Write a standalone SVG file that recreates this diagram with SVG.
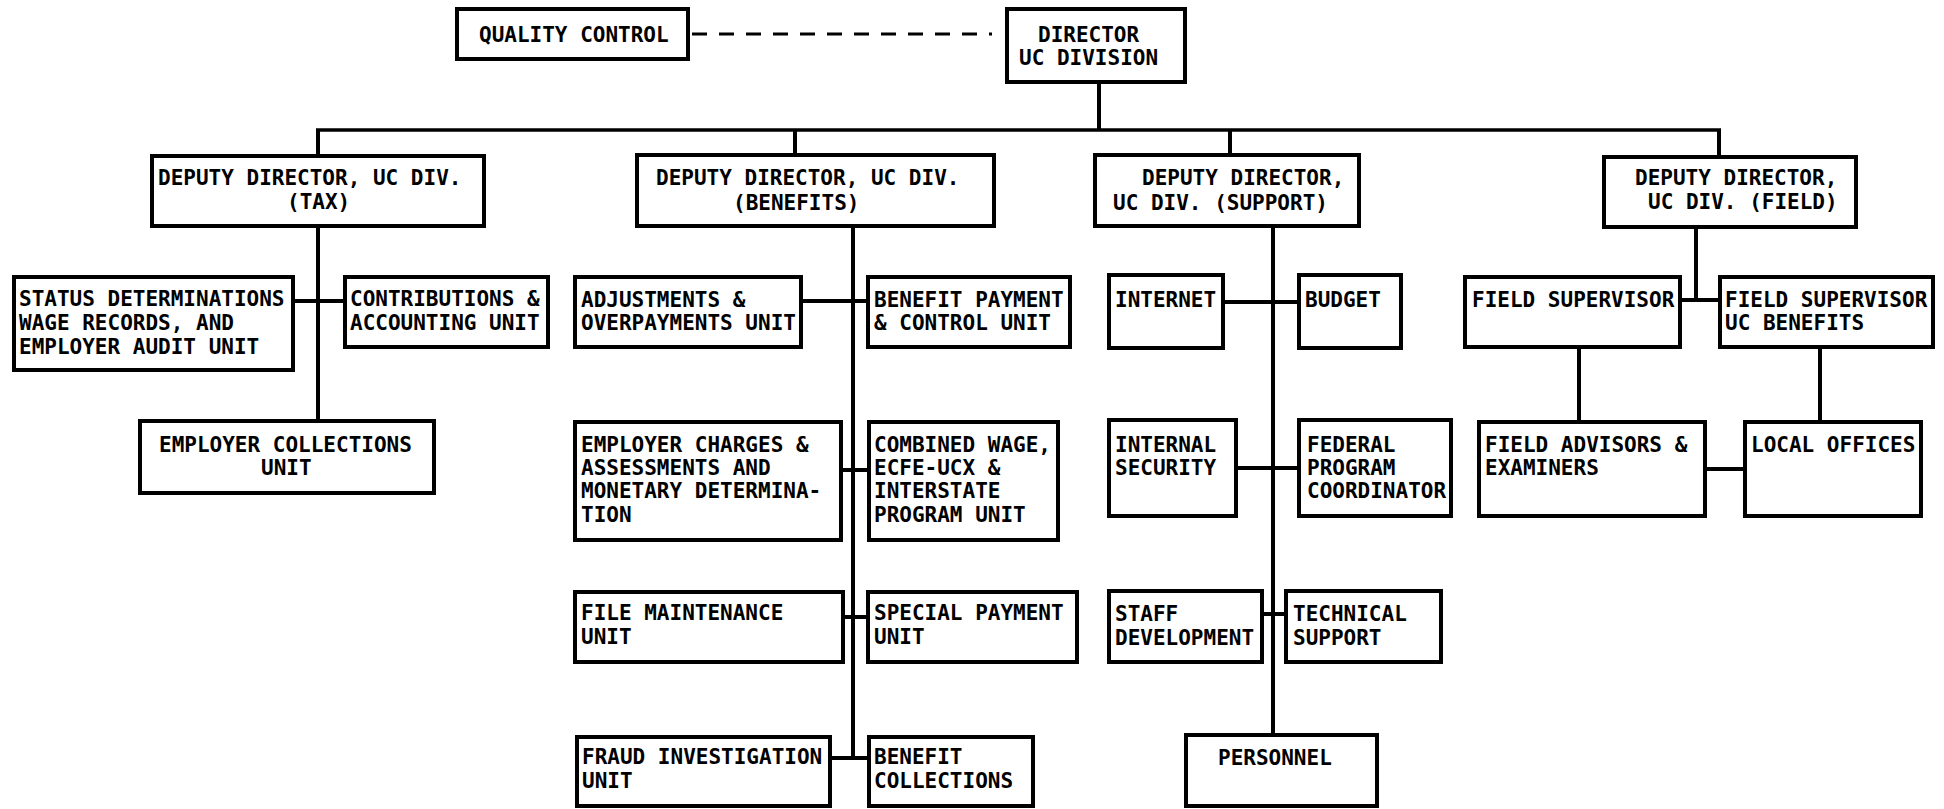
<svg xmlns="http://www.w3.org/2000/svg" width="1944" height="809" viewBox="0 0 1944 809">
<style>
rect.box{fill:#fff;stroke:#000;stroke-width:4}
line{stroke:#000;stroke-width:4}
line.dash{stroke-width:3;stroke-dasharray:15 12}
line.bus{stroke-width:3.5}
text{font-family:"DejaVu Sans Mono","Liberation Mono",monospace;font-weight:bold;font-size:21px;fill:#000}
</style>
<rect width="1944" height="809" fill="#fff"/>
<g id="connectors">
<line class="dash" x1="692" y1="34" x2="992" y2="34"/>
<line x1="1099" y1="83" x2="1099" y2="130"/>
<line class="bus" x1="316" y1="130" x2="1721" y2="130"/>
<line x1="318" y1="130" x2="318" y2="154"/>
<line x1="795" y1="130" x2="795" y2="153"/>
<line x1="1230" y1="130" x2="1230" y2="153"/>
<line x1="1719" y1="130" x2="1719" y2="155"/>
<line x1="318" y1="227" x2="318" y2="419"/>
<line x1="295" y1="301" x2="343" y2="301"/>
<line x1="853" y1="227" x2="853" y2="758"/>
<line x1="803" y1="301" x2="866" y2="301"/>
<line x1="843" y1="470" x2="867" y2="470"/>
<line x1="845" y1="617" x2="866" y2="617"/>
<line x1="832" y1="758" x2="867" y2="758"/>
<line x1="1273" y1="227" x2="1273" y2="733"/>
<line x1="1225" y1="302" x2="1297" y2="302"/>
<line x1="1238" y1="468" x2="1297" y2="468"/>
<line x1="1264" y1="614" x2="1284" y2="614"/>
<line x1="1696" y1="228" x2="1696" y2="300"/>
<line x1="1682" y1="300" x2="1718" y2="300"/>
<line x1="1579" y1="349" x2="1579" y2="420"/>
<line x1="1820" y1="349" x2="1820" y2="420"/>
<line x1="1707" y1="469" x2="1743" y2="469"/>
</g>
<g id="quality-control"><rect class="box" x="457" y="9" width="231" height="50"/><text x="479" y="42">QUALITY CONTROL</text></g>
<g id="director"><rect class="box" x="1007" y="9" width="178" height="73"/><text x="1038" y="42">DIRECTOR</text><text x="1019" y="65">UC DIVISION</text></g>
<g id="deputy-tax"><rect class="box" x="152" y="156" width="332" height="70"/><text x="158" y="185">DEPUTY DIRECTOR, UC DIV.</text><text x="287" y="209">(TAX)</text></g>
<g id="deputy-benefits"><rect class="box" x="637" y="155" width="357" height="71"/><text x="656" y="185">DEPUTY DIRECTOR, UC DIV.</text><text x="733" y="210">(BENEFITS)</text></g>
<g id="deputy-support"><rect class="box" x="1095" y="155" width="264" height="71"/><text x="1142" y="185">DEPUTY DIRECTOR,</text><text x="1113" y="210">UC DIV. (SUPPORT)</text></g>
<g id="deputy-field"><rect class="box" x="1604" y="157" width="252" height="70"/><text x="1635" y="185">DEPUTY DIRECTOR,</text><text x="1648" y="209">UC DIV. (FIELD)</text></g>
<g id="status-determinations"><rect class="box" x="14" y="277" width="279" height="93"/><text x="19" y="306">STATUS DETERMINATIONS</text><text x="19" y="330">WAGE RECORDS, AND</text><text x="19" y="354">EMPLOYER AUDIT UNIT</text></g>
<g id="contributions"><rect class="box" x="345" y="277" width="203" height="70"/><text x="350" y="306">CONTRIBUTIONS &amp;</text><text x="350" y="330">ACCOUNTING UNIT</text></g>
<g id="employer-collections"><rect class="box" x="140" y="421" width="294" height="72"/><text x="159" y="452">EMPLOYER COLLECTIONS</text><text x="261" y="475">UNIT</text></g>
<g id="adjustments"><rect class="box" x="575" y="277" width="226" height="70"/><text x="581" y="307">ADJUSTMENTS &amp;</text><text x="581" y="330">OVERPAYMENTS UNIT</text></g>
<g id="benefit-payment"><rect class="box" x="868" y="277" width="202" height="70"/><text x="874" y="307">BENEFIT PAYMENT</text><text x="874" y="330">&amp; CONTROL UNIT</text></g>
<g id="employer-charges"><rect class="box" x="575" y="422" width="266" height="118"/><text x="581" y="452">EMPLOYER CHARGES &amp;</text><text x="581" y="475">ASSESSMENTS AND</text><text x="581" y="498">MONETARY DETERMINA-</text><text x="581" y="522">TION</text></g>
<g id="combined-wage"><rect class="box" x="869" y="422" width="189" height="118"/><text x="874" y="452">COMBINED WAGE,</text><text x="874" y="475">ECFE-UCX &amp;</text><text x="874" y="498">INTERSTATE</text><text x="874" y="522">PROGRAM UNIT</text></g>
<g id="file-maintenance"><rect class="box" x="575" y="592" width="268" height="70"/><text x="581" y="620">FILE MAINTENANCE</text><text x="581" y="644">UNIT</text></g>
<g id="special-payment"><rect class="box" x="868" y="592" width="209" height="70"/><text x="874" y="620">SPECIAL PAYMENT</text><text x="874" y="644">UNIT</text></g>
<g id="fraud-investigation"><rect class="box" x="577" y="737" width="253" height="69"/><text x="582" y="764">FRAUD INVESTIGATION</text><text x="582" y="788">UNIT</text></g>
<g id="benefit-collections"><rect class="box" x="869" y="737" width="164" height="69"/><text x="874" y="764">BENEFIT</text><text x="874" y="788">COLLECTIONS</text></g>
<g id="internet"><rect class="box" x="1109" y="275" width="114" height="73"/><text x="1115" y="307">INTERNET</text></g>
<g id="budget"><rect class="box" x="1299" y="275" width="102" height="73"/><text x="1305" y="307">BUDGET</text></g>
<g id="internal-security"><rect class="box" x="1109" y="420" width="127" height="96"/><text x="1115" y="452">INTERNAL</text><text x="1115" y="475">SECURITY</text></g>
<g id="federal-program"><rect class="box" x="1299" y="420" width="152" height="96"/><text x="1307" y="452">FEDERAL</text><text x="1307" y="475">PROGRAM</text><text x="1307" y="498">COORDINATOR</text></g>
<g id="staff-development"><rect class="box" x="1109" y="591" width="153" height="71"/><text x="1115" y="621">STAFF</text><text x="1115" y="645">DEVELOPMENT</text></g>
<g id="technical-support"><rect class="box" x="1286" y="591" width="155" height="71"/><text x="1293" y="621">TECHNICAL</text><text x="1293" y="645">SUPPORT</text></g>
<g id="personnel"><rect class="box" x="1186" y="735" width="191" height="71"/><text x="1218" y="765">PERSONNEL</text></g>
<g id="field-supervisor"><rect class="box" x="1465" y="277" width="215" height="70"/><text x="1472" y="307">FIELD SUPERVISOR</text></g>
<g id="field-supervisor-uc-benefits"><rect class="box" x="1720" y="277" width="213" height="70"/><text x="1725" y="307">FIELD SUPERVISOR</text><text x="1725" y="330">UC BENEFITS</text></g>
<g id="field-advisors"><rect class="box" x="1479" y="422" width="226" height="94"/><text x="1485" y="452">FIELD ADVISORS &amp;</text><text x="1485" y="475">EXAMINERS</text></g>
<g id="local-offices"><rect class="box" x="1745" y="422" width="176" height="94"/><text x="1751" y="452">LOCAL OFFICES</text></g>
</svg>
